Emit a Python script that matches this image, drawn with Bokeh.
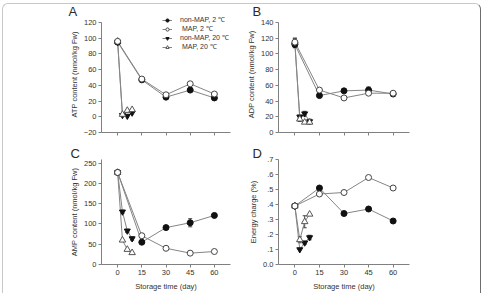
from bokeh.plotting import figure
from bokeh.layouts import column, row
from bokeh.models import (Legend, LegendItem, Whisker, TeeHead,
                          ColumnDataSource, FixedTicker, Range1d)
from bokeh.embed import file_html
from bokeh.resources import INLINE

# ---------------- data ----------------
days_2c = [0, 15, 30, 45, 60]
days_20c = [0, 3, 6, 9]
x_ticks = [0, 15, 30, 45, 60]

series_names = ["non-MAP, 2 \u2103", "\u00a0MAP, 2 \u2103", "non-MAP, 20 \u2103", "\u00a0MAP, 20 \u2103"]

# A: ATP content (nmol/kg Fw)
atp_nonmap_2 = [95, 47, 25, 34, 24]
atp_map_2 = [96, 48, 28, 42, 29]
atp_nonmap_20 = [95, 2, 1, 5]
atp_map_20 = [96, 3, 8, 9]
atp_nonmap_2_err = [2, 0, 0, 0, 0]
atp_map_2_err = [2, 0, 0, 0, 0]
atp_nonmap_20_err = [2, 0, 0, 0]
atp_map_20_err = [2, 0, 0, 0]

# B: ADP content (nmol/kg Fw)
adp_nonmap_2 = [112, 47, 53, 54, 49]
adp_map_2 = [115, 54, 44, 50, 50]
adp_nonmap_20 = [112, 20, 24, 14]
adp_map_20 = [115, 17, 13, 13]
adp_nonmap_2_err = [4, 0, 0, 4, 0]
adp_map_2_err = [5, 0, 0, 0, 0]
adp_nonmap_20_err = [4, 2, 3, 3]
adp_map_20_err = [5, 3, 0, 2]

# C: AMP content (nmol/kg Fw)
amp_nonmap_2 = [227, 55, 91, 103, 121]
amp_map_2 = [227, 71, 40, 28, 32]
amp_nonmap_20 = [227, 130, 83, 64]
amp_map_20 = [227, 60, 37, 29]
amp_nonmap_2_err = [0, 0, 0, 10, 0]
amp_map_2_err = [0, 0, 0, 0, 0]
amp_nonmap_20_err = [0, 4, 4, 4]
amp_map_20_err = [0, 0, 0, 0]

# D: Energy charge (%)
ec_nonmap_2 = [0.39, 0.51, 0.34, 0.37, 0.29]
ec_map_2 = [0.39, 0.47, 0.48, 0.58, 0.51]
ec_nonmap_20 = [0.39, 0.10, 0.145, 0.18]
ec_map_20 = [0.39, 0.165, 0.285, 0.335]
ec_nonmap_2_err = [0, 0, 0, 0, 0]
ec_map_2_err = [0, 0, 0, 0, 0]
ec_nonmap_20_err = [0, 0, 0.01, 0.015]
ec_map_20_err = [0, 0.02, 0.04, 0]

ec_ticks = [0.0, 0.1, 0.2, 0.3, 0.4, 0.5, 0.6, 0.7]
ec_labels = ["0.0", ".1", ".2", ".3", ".4", ".5", ".6", ".7"]

# ---------------- style ----------------
FONT = "Liberation Sans"
AXC = "#808080"
TXT = "#333333"
LINE = "#858585"

STYLES = [
    dict(marker="circle", size=6, fill_color="#111111", line_color="#111111"),
    dict(marker="circle", size=6, fill_color="white", line_color="#444444"),
    dict(marker="inverted_triangle", size=6, fill_color="#111111", line_color="#111111"),
    dict(marker="triangle", size=6.5, fill_color="white", line_color="#555555"),
]


def make_panel(width, height, mleft, mright, mtop, mbottom, xr, yr, ybounds, yticks, ylabel,
               show_xlabels, overrides=None):
    p = figure(width=width, height=height, x_range=Range1d(*xr), y_range=Range1d(*yr),
               output_backend="svg", toolbar_location=None,
               min_border_left=mleft, min_border_right=mright,
               min_border_top=mtop, min_border_bottom=mbottom)
    p.outline_line_color = None
    p.grid.visible = False
    p.background_fill_color = "white"
    p.border_fill_color = "white"
    xa = p.xaxis[0]
    ya = p.yaxis[0]
    for ax in (xa, ya):
        ax.axis_line_color = AXC
        ax.major_tick_line_color = AXC
        ax.minor_tick_line_color = None
        ax.major_tick_out = 3
        ax.major_tick_in = 0
        ax.major_label_standoff = 2
        ax.major_label_text_font = FONT
        ax.major_label_text_font_size = "7.5px"
        ax.major_label_text_color = TXT
    ya.bounds = ybounds
    ya.ticker = FixedTicker(ticks=yticks)
    if overrides:
        ya.major_label_overrides = overrides
    if show_xlabels:
        xa.ticker = FixedTicker(ticks=x_ticks)
        xa.axis_label = "Storage time (day)"
        xa.axis_label_text_font = FONT
        xa.axis_label_text_font_size = "7.5px"
        xa.axis_label_text_font_style = "normal"
        xa.axis_label_text_color = TXT
        xa.axis_label_standoff = 4
    else:
        # tick marks only, no tick labels
        xa.ticker = FixedTicker(ticks=[], minor_ticks=x_ticks)
        xa.minor_tick_line_color = AXC
        xa.minor_tick_out = 3
        xa.minor_tick_in = 0
    ya.axis_label = ylabel
    ya.axis_label_text_font = FONT
    ya.axis_label_text_font_size = "7.5px"
    ya.axis_label_text_font_style = "normal"
    ya.axis_label_text_color = TXT
    ya.axis_label_standoff = 2
    return p


def add_data(p, ys_list, errs_list):
    xs_list = [days_2c, days_2c, days_20c, days_20c]
    lines = []
    for xs, ys in zip(xs_list, ys_list):
        lines.append(p.line(xs, ys, line_color=LINE, line_width=1))
    for xs, ys, es in zip(xs_list, ys_list, errs_list):
        bx = [x for x, e in zip(xs, es) if e > 0]
        up = [y + e for y, e in zip(ys, es) if e > 0]
        lo = [y - e for y, e in zip(ys, es) if e > 0]
        if bx:
            src = ColumnDataSource(dict(x=bx, upper=up, lower=lo))
            w = Whisker(source=src, base="x", upper="upper", lower="lower",
                        line_color="#444444", line_width=1,
                        upper_head=TeeHead(size=4, line_color="#444444", line_width=1),
                        lower_head=TeeHead(size=4, line_color="#444444", line_width=1))
            p.add_layout(w)
    order = [2, 3, 0, 1]
    marks = [None] * 4
    for i in order:
        marks[i] = p.scatter(xs_list[i], ys_list[i], **STYLES[i])
    return lines, marks


def letter(p, text, offset, standoff):
    t = p.title
    t.text = text
    t.align = "left"
    t.offset = offset
    t.standoff = standoff
    t.vertical_align = "bottom"
    t.text_font = FONT
    t.text_font_size = "13px"
    t.text_font_style = "normal"
    t.text_color = "#2a2a2a"


XR = (-10, 70)
TOP_EXTRA = 6  # px of frame above the top tick in panels A/B (room for the legend)

pA = make_panel(240, 145, 101, 10, 22 - TOP_EXTRA, 13, XR, (-20, 120 + TOP_EXTRA * 140 / 110),
                (-20, 120), [-20, 0, 20, 40, 60, 80, 100, 120], "ATP content (nmol/kg Fw)", False)
pB = make_panel(243, 145, 38, 74, 22 - TOP_EXTRA, 13, XR, (0, 140 + TOP_EXTRA * 140 / 110),
                (0, 140), [0, 20, 40, 60, 80, 100, 120, 140], "ADP content (nmol/kg Fw)", False)
pC = make_panel(240, 148, 101, 10, 12, 27, XR, (0, 259), (0, 259),
                [0, 50, 100, 150, 200, 250], "AMP content (nmol/kg Fw)", True)
pD = make_panel(243, 148, 38, 74, 12, 27, XR, (0, 0.7), (0, 0.7), ec_ticks,
                "Energy charge (%)", True,
                overrides={t: l for t, l in zip(ec_ticks, ec_labels)})

linesA, marksA = add_data(pA, [atp_nonmap_2, atp_map_2, atp_nonmap_20, atp_map_20],
                          [atp_nonmap_2_err, atp_map_2_err, atp_nonmap_20_err, atp_map_20_err])
add_data(pB, [adp_nonmap_2, adp_map_2, adp_nonmap_20, adp_map_20],
         [adp_nonmap_2_err, adp_map_2_err, adp_nonmap_20_err, adp_map_20_err])
add_data(pC, [amp_nonmap_2, amp_map_2, amp_nonmap_20, amp_map_20],
         [amp_nonmap_2_err, amp_map_2_err, amp_nonmap_20_err, amp_map_20_err])
add_data(pD, [ec_nonmap_2, ec_map_2, ec_nonmap_20, ec_map_20],
         [ec_nonmap_2_err, ec_map_2_err, ec_nonmap_20_err, ec_map_20_err])

legend = Legend(items=[LegendItem(label=n, renderers=[l, m])
                       for n, l, m in zip(series_names, linesA, marksA)],
                location=(61, 81), glyph_width=10, glyph_height=8, label_height=8,
                label_standoff=8, spacing=0, padding=0, margin=0,
                border_line_color=None, background_fill_alpha=0,
                label_text_font=FONT, label_text_font_size="7px", label_text_color=TXT)
pA.add_layout(legend)

letter(pA, "A", -33, -2 - TOP_EXTRA + 3)
letter(pB, "B", -26, -2 - TOP_EXTRA + 3)
letter(pC, "C", -31, -3)
letter(pD, "D", -26, -3)

frame_css = """
:host { position: relative; }
:host::after {
  content: "";
  position: absolute;
  left: 2px; top: 3px; width: 479px; height: 290px;
  box-sizing: border-box;
  border-style: solid; border-width: 1px 1px 0 1px;
  border-color: #c8c8c8 #6e6e6e #c8c8c8 #c8c8c8;
  border-radius: 6px 6px 0 0;
  pointer-events: none;
}
"""

layout = column(row(pA, pB), row(pC, pD), stylesheets=[frame_css])

with open("out.html", "w") as f:
    f.write(file_html(layout, INLINE))
